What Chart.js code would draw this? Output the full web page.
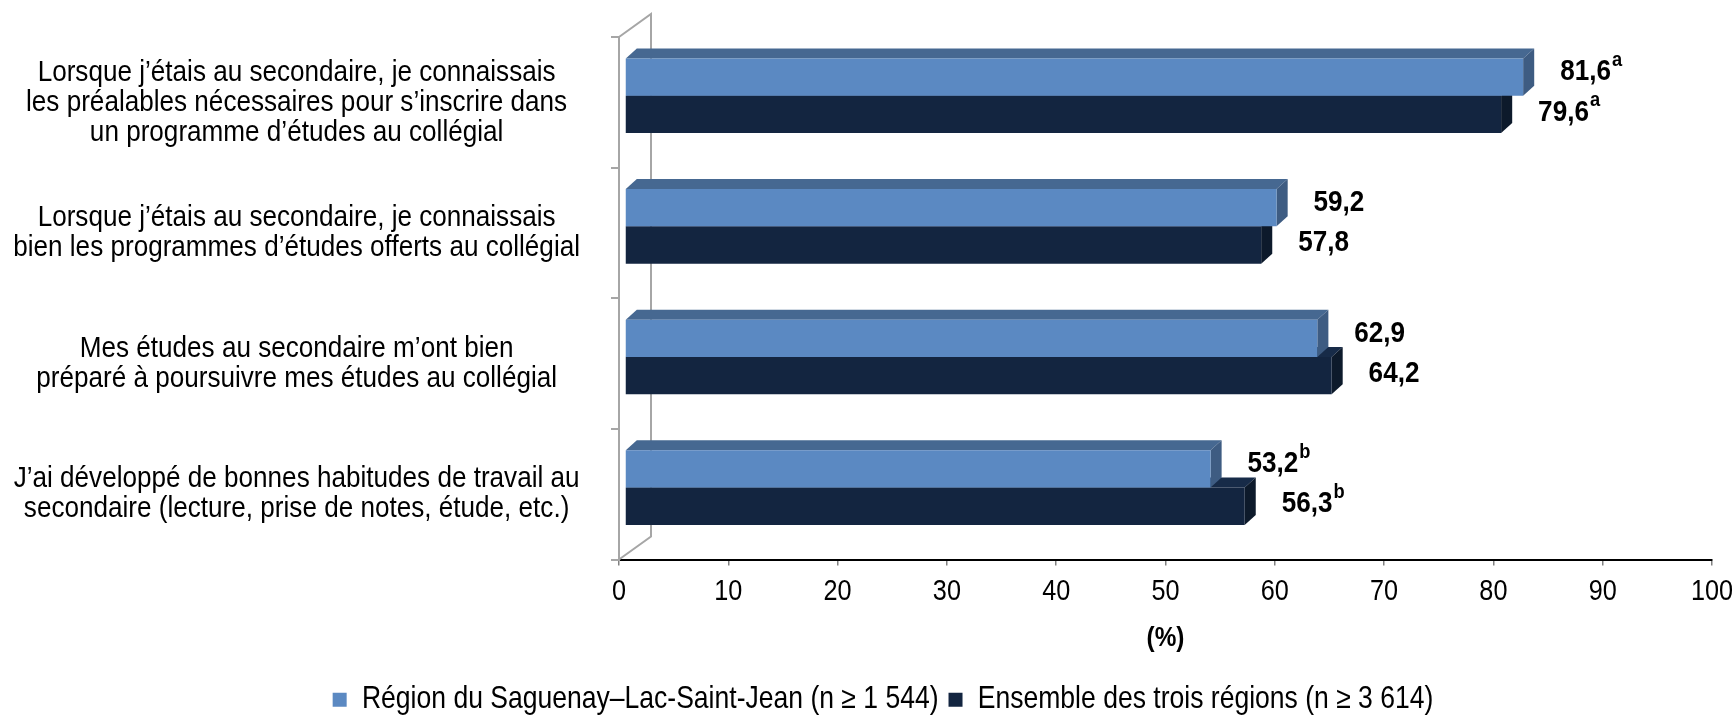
<!DOCTYPE html>
<html lang="fr">
<head>
<meta charset="utf-8">
<title>Préparation au collégial</title>
<script src="https://cdn.jsdelivr.net/npm/chart.js@4.4.1/dist/chart.umd.min.js"></script>
<style>
  html, body { margin: 0; padding: 0; background: #fff; }
</style>
</head>
<body>
<canvas id="barChart" width="1733" height="715"></canvas>
<script>
const categories = [
    ['Lorsque j’étais au secondaire, je connaissais', 'les préalables nécessaires pour s’inscrire dans', 'un programme d’études au collégial'],
    ['Lorsque j’étais au secondaire, je connaissais', 'bien les programmes d’études offerts au collégial'],
    ['Mes études au secondaire m’ont bien', 'préparé à poursuivre mes études au collégial'],
    ['J’ai développé de bonnes habitudes de travail au', 'secondaire (lecture, prise de notes, étude, etc.)']
];
const seriesNames = ['Région du Saguenay–Lac-Saint-Jean (n ≥ 1 544)', 'Ensemble des trois régions (n ≥ 3 614)'];
const regionValues = [81.6, 59.2, 62.9, 53.2];
const ensembleValues = [79.6, 57.8, 64.2, 56.3];
const regionNotes = ['a', '', '', 'b'];
const ensembleNotes = ['a', '', '', 'b'];
const tickLabels = ['0', '10', '20', '30', '40', '50', '60', '70', '80', '90', '100'];
const axisTitle = '(%)';

const FONT = '"Liberation Sans", Arial, sans-serif';
const notes = [regionNotes, ensembleNotes];

// no Arial Narrow here, so squeeze every text horizontally
const CONDENSE = 0.87;

// fake 3D look: front faces are shifted a little, top and side faces drawn behind them
const SHIFT_X = 6, SHIFT_Y = -6.6, STRETCH = 1.007;
const DEPTH_X = 11, DEPTH_Y = 10;
const WALL_X = 32, WALL_Y = 23;
const faces = [
    { top: '#466891', side: '#3E5C82' },
    { top: '#172B48', side: '#0D1A2B' }
];

function frontX(chart, x) {
    const x0 = chart.scales.x.getPixelForValue(0);
    return x0 + SHIFT_X + (x - x0) * STRETCH;
}

const depthPlugin = {
    id: 'depth',
    afterLayout(chart) {
        // legend sits a bit right of centre and lower in the original
        const lg = chart.legend;
        lg.left = 54;
        lg.top += 10;
        lg.bottom += 10;
    },
    beforeDatasetsDraw(chart) {
        const ctx = chart.ctx;
        const area = chart.chartArea;

        // back wall and floor edges
        ctx.save();
        ctx.strokeStyle = '#A6A6A6';
        ctx.lineWidth = 2;
        ctx.beginPath();
        ctx.moveTo(area.left, area.top);
        ctx.lineTo(area.left + WALL_X, area.top - WALL_Y);
        ctx.lineTo(area.left + WALL_X, area.bottom - WALL_Y);
        ctx.lineTo(area.left, area.bottom);
        ctx.stroke();
        ctx.restore();

        const x0 = chart.scales.x.getPixelForValue(0);
        ctx.save();
        ctx.translate(x0 + SHIFT_X, SHIFT_Y);
        ctx.scale(STRETCH, 1);
        ctx.translate(-x0, 0);

        [1, 0].forEach(di => {
            const meta = chart.getDatasetMeta(di);
            meta.data.forEach(bar => {
                const left = Math.min(bar.x, bar.base);
                const right = Math.max(bar.x, bar.base);
                const top = bar.y - bar.height / 2;
                const bottom = bar.y + bar.height / 2;

                ctx.fillStyle = faces[di].top;
                ctx.beginPath();
                ctx.moveTo(left, top);
                ctx.lineTo(left + DEPTH_X, top - DEPTH_Y);
                ctx.lineTo(right + DEPTH_X, top - DEPTH_Y);
                ctx.lineTo(right, top);
                ctx.closePath();
                ctx.fill();

                ctx.fillStyle = faces[di].side;
                ctx.beginPath();
                ctx.moveTo(right, top);
                ctx.lineTo(right + DEPTH_X, top - DEPTH_Y);
                ctx.lineTo(right + DEPTH_X, bottom - DEPTH_Y);
                ctx.lineTo(right, bottom);
                ctx.closePath();
                ctx.fill();
            });
        });
    },
    afterDatasetsDraw(chart) {
        const ctx = chart.ctx;
        ctx.restore();

        ctx.save();
        ctx.fillStyle = '#000';
        ctx.textAlign = 'left';
        ctx.textBaseline = 'middle';
        chart.data.datasets.forEach((ds, di) => {
            const meta = chart.getDatasetMeta(di);
            meta.data.forEach((bar, i) => {
                const text = ds.data[i].toFixed(1).replace('.', ',');
                const x = frontX(chart, bar.x) + 37;
                const y = bar.y + SHIFT_Y + (di === 0 ? -5 : -2);
                ctx.font = 'bold 30px ' + FONT;
                ctx.fillText(text, x, y);
                const note = notes[di][i];
                if (note) {
                    const w = ctx.measureText(text).width;
                    ctx.font = 'bold 21px ' + FONT;
                    ctx.fillText(note, x + w + 1, y - 12);
                }
            });
        });
        ctx.restore();
    }
};

const canvas = document.getElementById('barChart');
const ctx = canvas.getContext('2d');

const rawFill = ctx.fillText.bind(ctx);
const rawMeasure = ctx.measureText.bind(ctx);
ctx.fillText = function (text, x, y, maxWidth) {
    this.save();
    this.translate(x, y);
    this.scale(CONDENSE, 1);
    if (maxWidth == null) rawFill(text, 0, 0);
    else rawFill(text, 0, 0, maxWidth / CONDENSE);
    this.restore();
};
ctx.measureText = function (text) {
    const m = rawMeasure(text);
    return {
        width: m.width * CONDENSE,
        actualBoundingBoxAscent: m.actualBoundingBoxAscent,
        actualBoundingBoxDescent: m.actualBoundingBoxDescent,
        actualBoundingBoxLeft: m.actualBoundingBoxLeft * CONDENSE,
        actualBoundingBoxRight: m.actualBoundingBoxRight * CONDENSE
    };
};

new Chart(ctx, {
    type: 'bar',
    data: {
        labels: categories,
        datasets: [{
            label: seriesNames[0],
            data: regionValues,
            backgroundColor: '#5B89C2',
            borderWidth: 0
        }, {
            label: seriesNames[1],
            data: ensembleValues,
            backgroundColor: '#132540',
            borderWidth: 0
        }]
    },
    options: {
        indexAxis: 'y',
        responsive: false,
        maintainAspectRatio: false,
        animation: false,
        datasets: {
            bar: { categoryPercentage: 0.571, barPercentage: 1 }
        },
        layout: {
            padding: { top: 37, right: 21, bottom: 0, left: 0 }
        },
        scales: {
            x: {
                min: 0,
                max: 100,
                afterFit: scale => {
                    scale.height = 105;
                    scale.paddingLeft = 0;
                    scale.paddingRight = 0;
                },
                ticks: {
                    stepSize: 10,
                    padding: 9,
                    color: '#000',
                    font: { family: FONT, size: 29 },
                    callback: (v, i) => tickLabels[i]
                },
                grid: { drawOnChartArea: false, tickLength: 6, color: '#808080', lineWidth: 1.5 },
                border: { color: '#000', width: 2 },
                title: {
                    display: true,
                    text: axisTitle,
                    color: '#000',
                    font: { family: FONT, size: 28, weight: 'bold' },
                    padding: { top: 0, bottom: 9 }
                }
            },
            y: {
                afterFit: scale => {
                    scale.width = 619;
                    scale.paddingTop = 0;
                    scale.paddingBottom = 0;
                },
                ticks: {
                    crossAlign: 'center',
                    padding: 31,
                    color: '#000',
                    font: { family: FONT, size: 30, lineHeight: 1.0 }
                },
                grid: { offset: true, drawOnChartArea: false, tickLength: 8, color: '#A6A6A6', lineWidth: 2 },
                border: { color: '#A6A6A6', width: 2 }
            }
        },
        plugins: {
            legend: {
                position: 'bottom',
                labels: {
                    boxWidth: 14,
                    boxHeight: 14,
                    padding: 10,
                    color: '#000',
                    font: { family: FONT, size: 30.5 }
                }
            },
            tooltip: { enabled: false }
        }
    },
    plugins: [depthPlugin]
});
</script>
</body>
</html>
